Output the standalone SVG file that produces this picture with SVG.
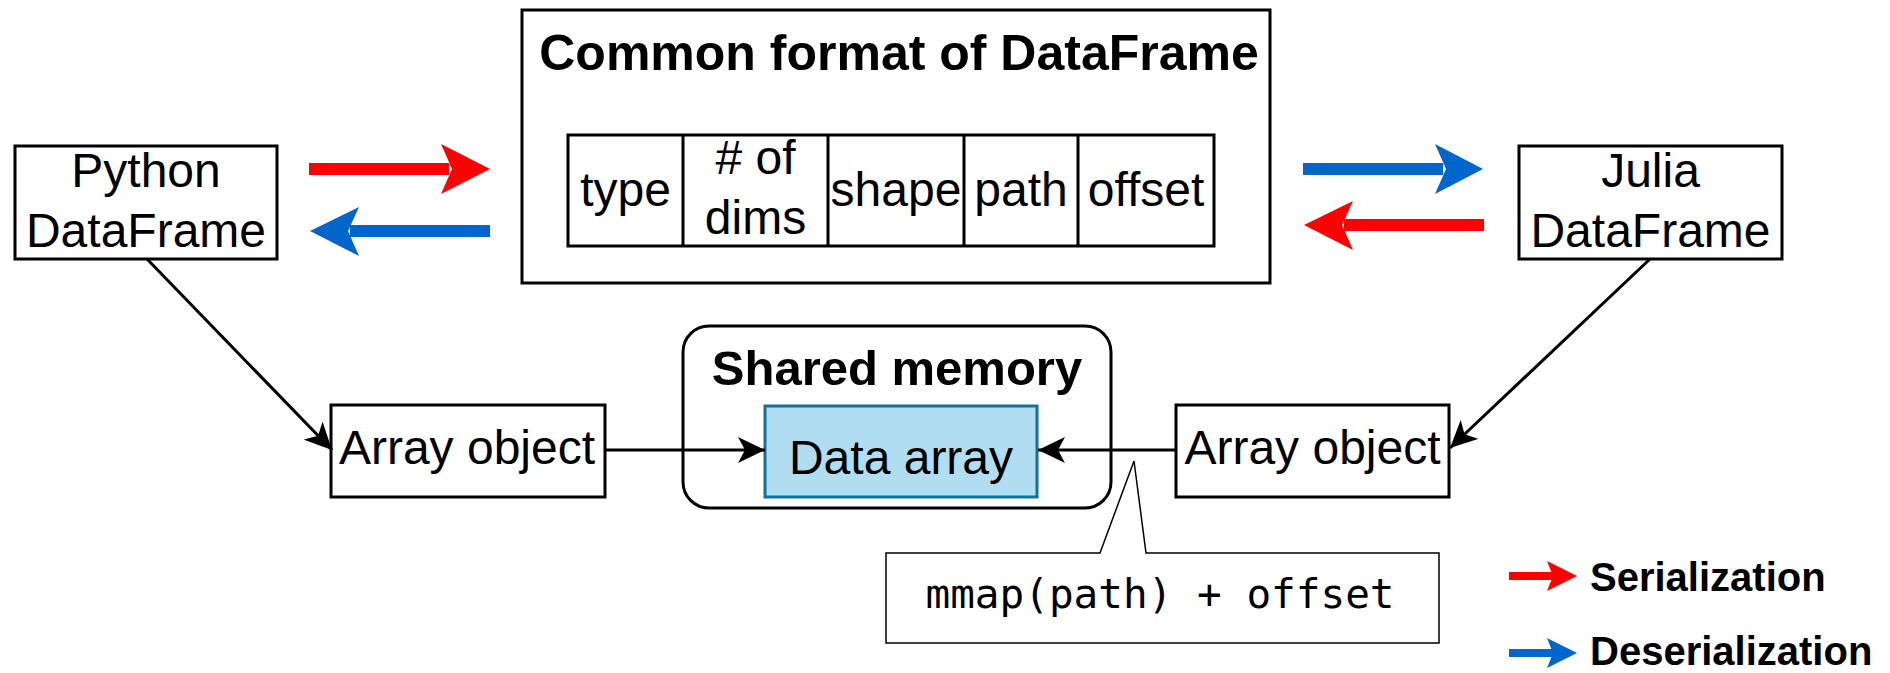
<svg xmlns="http://www.w3.org/2000/svg" width="1890" height="673" viewBox="0 0 1890 673">
<style>
.box{fill:#fff;stroke:#000;stroke-width:3}
.t{font-family:"Liberation Sans",Arial,sans-serif;font-size:48px;fill:#000;text-anchor:middle}
.b{font-family:"Liberation Sans",Arial,sans-serif;font-weight:bold;fill:#000;text-anchor:middle}
.lg{font-family:"Liberation Sans",Arial,sans-serif;font-weight:bold;font-size:40px;fill:#000;text-anchor:start}
.mono{font-family:"DejaVu Sans Mono","Liberation Mono",monospace;font-size:41px;fill:#000;text-anchor:middle}
.conn{fill:none;stroke:#000;stroke-width:3}
.red{fill:#ff0000}
.blue{fill:#0066cc}
</style>
<defs>
<marker id="arr" markerUnits="userSpaceOnUse" markerWidth="28" markerHeight="26" refX="27" refY="13" orient="auto">
<path d="M0,0 L27,13 L0,26 L7,13 Z" fill="#000"/>
</marker>
</defs>

<g id="python-dataframe">
<rect class="box" x="15" y="146" width="262" height="113"/>
<text class="t" x="146" y="187">Python</text>
<text class="t" x="146" y="247">DataFrame</text>
</g>

<g id="julia-dataframe">
<rect class="box" x="1519" y="146" width="263" height="113"/>
<text class="t" x="1650.5" y="187">Julia</text>
<text class="t" x="1650.5" y="247">DataFrame</text>
</g>

<g id="common-format">
<rect class="box" x="522" y="10" width="748" height="273" stroke-width="3.5"/>
<text class="b" x="899" y="70" font-size="50">Common format of DataFrame</text>
<rect class="box" x="568" y="135" width="646" height="111"/>
<line class="conn" x1="683" y1="135" x2="683" y2="246"/>
<line class="conn" x1="828" y1="135" x2="828" y2="246"/>
<line class="conn" x1="964" y1="135" x2="964" y2="246"/>
<line class="conn" x1="1078" y1="135" x2="1078" y2="246"/>
<text class="t" x="625.5" y="206">type</text>
<text class="t" x="755.5" y="174"># of</text>
<text class="t" x="755.5" y="234">dims</text>
<text class="t" x="896" y="206">shape</text>
<text class="t" x="1021" y="206">path</text>
<text class="t" x="1146" y="206">offset</text>
</g>

<g id="shared-memory">
<rect class="box" x="683" y="326" width="428" height="182" rx="26" ry="26"/>
<text class="b" x="897" y="385" font-size="49">Shared memory</text>
</g>

<g id="data-array">
<rect x="765" y="406" width="272" height="91" fill="#b1ddf0" stroke="#10739e" stroke-width="3"/>
<text class="t" x="901" y="474" font-size="49">Data array</text>
</g>

<g id="array-object-left">
<rect class="box" x="331" y="405" width="274" height="92"/>
<text class="t" x="467" y="464" font-size="49">Array object</text>
</g>

<g id="array-object-right">
<rect class="box" x="1176" y="405" width="273" height="92"/>
<text class="t" x="1312.5" y="464" font-size="49">Array object</text>
</g>

<g id="mmap-callout">
<path d="M886,553 L1100,553 L1134,461 L1146,553 L1439,553 L1439,643 L886,643 Z" fill="#fff" stroke="#000" stroke-width="1.5"/>
<text class="mono" x="1160" y="608">mmap(path) + offset</text>
</g>

<g id="connectors">
<line class="conn" x1="147" y1="259" x2="332" y2="450" marker-end="url(#arr)"/>
<line class="conn" x1="1650" y1="259" x2="1450" y2="448" marker-end="url(#arr)"/>
<line class="conn" x1="605" y1="450" x2="765" y2="450" marker-end="url(#arr)"/>
<line class="conn" x1="1176" y1="450" x2="1038" y2="450" marker-end="url(#arr)"/>
<rect class="red" x="309" y="163" width="140" height="12"/>
<path class="red" d="M490,169 L441,144 L452,169 L441,194 Z"/>
<rect class="blue" x="350" y="225" width="140" height="12"/>
<path class="blue" d="M310,231 L359,207 L348,231 L359,256 Z"/>
<rect class="blue" x="1303" y="163" width="140" height="12"/>
<path class="blue" d="M1483,169 L1435,144 L1446,169 L1435,194 Z"/>
<rect class="red" x="1344" y="219" width="140" height="12"/>
<path class="red" d="M1304,225 L1353,201 L1342,225 L1353,250 Z"/>
</g>

<g id="legend">
<rect class="red" x="1509" y="572" width="44" height="8"/>
<path class="red" d="M1577,576 L1547,561 L1553,576 L1547,591 Z"/>
<text class="lg" x="1590" y="591">Serialization</text>
<rect class="blue" x="1509" y="649" width="44" height="8"/>
<path class="blue" d="M1577,653 L1547,638 L1553,653 L1547,668 Z"/>
<text class="lg" x="1590" y="665">Deserialization</text>
</g>
</svg>
